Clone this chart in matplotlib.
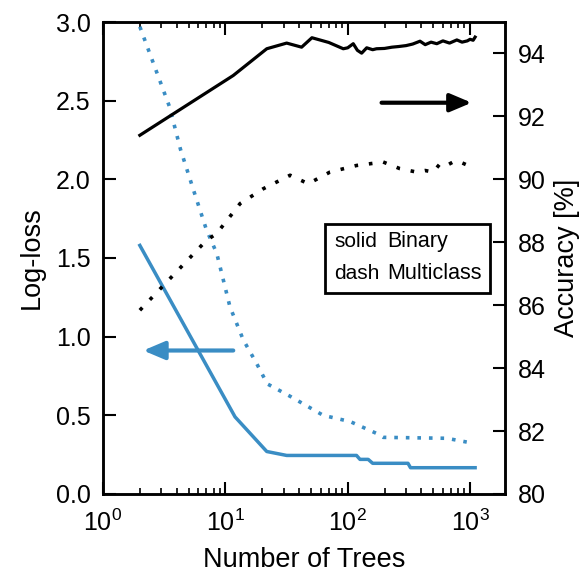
import matplotlib
matplotlib.use("Agg")
import matplotlib.pyplot as plt
from matplotlib.patches import Rectangle

plt.rcParams['font.family'] = ['Liberation Sans', 'DejaVu Sans']
plt.rcParams['mathtext.default'] = 'regular'

# Log-loss, binary (solid blue)
ll_bin_x = [2, 12, 21.8, 31.7, 118, 126, 147, 160, 311, 326, 1100]
ll_bin_y = [1.58, 0.49, 0.27, 0.245, 0.245, 0.22, 0.22, 0.195, 0.195, 0.167, 0.167]

# Log-loss, multiclass (dotted blue)
ll_mc_x = [2, 3.5, 4.3, 5.5, 7, 8.5, 10.9, 14, 18, 22, 34, 63, 105, 172, 195, 646, 940]
ll_mc_y = [2.97, 2.46, 2.19, 1.93, 1.68, 1.53, 1.19, 0.98, 0.83, 0.70, 0.62, 0.50, 0.46, 0.385, 0.36, 0.354, 0.33]

# Accuracy, binary (solid black)
acc_bin_x = [2, 11.6, 21.8, 31.7, 42, 51, 70, 92, 100, 111, 120, 130, 143, 160, 172, 200, 230, 260, 300,
             340, 390, 430, 480, 535, 600, 680, 780, 860, 950, 1000, 1060, 1100]
acc_bin_y = [91.40, 93.30, 94.15, 94.33, 94.20, 94.50, 94.35, 94.15, 94.18, 94.31, 94.10, 94.01, 94.18, 94.12, 94.15, 94.16, 94.20, 94.22, 94.25,
             94.30, 94.39, 94.28, 94.36, 94.31, 94.40, 94.33, 94.43, 94.36, 94.40, 94.45, 94.42, 94.52]

# Accuracy, multiclass (dotted black)
acc_mc_x = [2, 7, 8.5, 13.2, 20.4, 33.8, 47.6, 71.6, 118, 195, 267, 366, 430, 500, 570, 650, 750, 830, 950, 1060]
acc_mc_y = [85.84, 88.06, 88.28, 89.23, 89.70, 90.13, 89.86, 90.23, 90.44, 90.55, 90.34, 90.23, 90.28, 90.23, 90.50, 90.45, 90.58, 90.55, 90.45, 90.29]

blue = '#3a8dc4'

fig = plt.figure(figsize=(5.84, 5.73), dpi=100)
ax = fig.add_axes([0.1764, 0.1379, 0.6883, 0.8237])
ax2 = ax.twinx()

ax.plot(ll_bin_x, ll_bin_y, color=blue, lw=2.5, solid_joinstyle='round')
ax.plot(ll_mc_x, ll_mc_y, color=blue, lw=2.6, linestyle=(0, (1, 2.2)))
ax2.plot(acc_bin_x, acc_bin_y, color='black', lw=2.3)
ax2.plot(acc_mc_x, acc_mc_y, color='black', lw=2.6, linestyle=(0, (1, 3)))

ax.set_xscale('log')
ax.set_xlim(1, 1930)
ax.set_ylim(0, 3.0)
ax2.set_ylim(80, 95)
ax.set_yticks([0, 0.5, 1.0, 1.5, 2.0, 2.5, 3.0])
ax.set_yticklabels(['0.0', '0.5', '1.0', '1.5', '2.0', '2.5', '3.0'])
ax2.set_yticks([80, 82, 84, 86, 88, 90, 92, 94])
ax.set_xticks([1, 10, 100, 1000])

for a in (ax, ax2):
    for s in a.spines.values():
        s.set_linewidth(1.8)
ax.tick_params(axis='y', which='major', direction='in', length=9, width=1.5, labelsize=18, pad=9)
ax.tick_params(axis='x', which='major', direction='in', length=9, width=1.5, labelsize=18, pad=11)
ax.tick_params(axis='x', which='minor', direction='in', length=4.5, width=1.2, top=True)
ax.tick_params(axis='x', which='both', top=True)
ax.tick_params(axis='y', right=False)
ax2.tick_params(axis='y', which='major', direction='in', length=9, width=1.5, labelsize=18, pad=9)

ax.set_xlabel('Number of Trees', fontsize=19.5, labelpad=8)
ax.set_ylabel('Log-loss', fontsize=19.5, labelpad=8)
ax2.set_ylabel('Accuracy [%]', fontsize=19.5, labelpad=6)

# arrows
ax.annotate('', xy=(0.917, 0.829), xytext=(0.693, 0.829), xycoords='axes fraction',
            arrowprops=dict(arrowstyle='-|>,head_length=1.3,head_width=0.55', color='black', lw=3,
                            shrinkA=0, shrinkB=0))
ax.annotate('', xy=(0.100, 0.304), xytext=(0.324, 0.304), xycoords='axes fraction',
            arrowprops=dict(arrowstyle='-|>,head_length=1.3,head_width=0.55', color=blue, lw=3,
                            shrinkA=0, shrinkB=0))

# legend box
ax2.add_patch(Rectangle((0.552, 0.426), 0.410, 0.146, transform=ax2.transAxes, fill=False,
                        lw=2, edgecolor='black', zorder=5))
ax2.text(0.575, 0.535, 'solid', transform=ax2.transAxes, fontsize=15, va='center', ha='left')
ax2.text(0.707, 0.535, 'Binary', transform=ax2.transAxes, fontsize=15.5, va='center', ha='left')
ax2.text(0.575, 0.467, 'dash', transform=ax2.transAxes, fontsize=15, va='center', ha='left')
ax2.text(0.707, 0.467, 'Multiclass', transform=ax2.transAxes, fontsize=15.5, va='center', ha='left')

fig.savefig('out.png', dpi=100)
